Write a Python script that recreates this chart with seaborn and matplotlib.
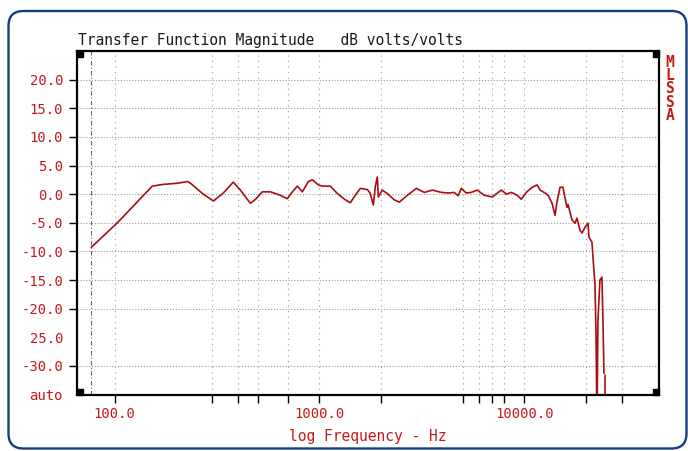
import numpy as np
import matplotlib
matplotlib.use('Agg')
import matplotlib.pyplot as plt
import matplotlib.patches as mpatches
import seaborn as sns

freq_hz = [77, 104, 142, 153, 173, 203, 227, 235, 269, 304, 340, 380, 412, 436, 461, 488,
           527, 577, 645, 698, 738, 781, 826, 884, 924, 990, 1034, 1131, 1224, 1339, 1416,
           1498, 1585, 1715, 1773, 1834, 1875, 1918, 1940, 2028, 2146, 2322, 2457, 2690,
           2976, 3254, 3560, 3940, 4260, 4550, 4760, 4930, 5210, 5510, 5900, 6380, 6990,
           7400, 7740, 8190, 8650, 9250, 9680, 10230, 10940, 11570, 11960, 12500, 13080,
           13680, 14140, 14460, 14960, 15470, 15640, 16170, 16360, 17110, 17700, 18100,
           18720, 19150, 19800, 20480, 20710, 21420, 21660, 22160, 22410, 22660, 22910,
           23430, 23960, 24230, 24500]
mag_db = [-9.3, -4.9, 0.2, 1.4, 1.7, 1.9, 2.2, 1.9, 0.1, -1.2, 0.2, 2.1, 0.7, -0.5, -1.6, -0.9,
          0.4, 0.4, -0.2, -0.8, 0.4, 1.4, 0.4, 2.2, 2.5, 1.6, 1.4, 1.4, 0.1, -1.0, -1.5,
          -0.2, 1.0, 0.8, 0.1, -1.9, 1.3, 3.0, -0.5, 0.7, 0.1, -1.0, -1.4, -0.2,
          1.0, 0.3, 0.7, 0.3, 0.2, 0.3, -0.3, 1.0, 0.2, 0.3, 0.7, -0.2, -0.5,
          0.2, 0.7, 0.0, 0.3, -0.2, -0.9, 0.3, 1.2, 1.6, 0.7, 0.3, -0.2,
          -1.6, -3.7, -1.4, 1.2, 1.2, 0.2, -2.3, -1.8, -4.5, -5.1, -4.2,
          -6.3, -6.8, -5.8, -5.1, -7.5, -8.4, -11.0, -15.9, -24.3, -40.0, -22.0,
          -15.0, -14.5, -22.0, -31.3]
tail_hz = [24770, 24770]
tail_db = [-31.6, -40.0]

# axis setup
grid_hz = [100, 300, 400, 500, 700, 1000, 2000, 5000, 6000, 7000, 8000, 10000, 20000, 30000]
x_labels = {100: '100.0', 1000: '1000.0', 10000: '10000.0'}
y_ticks = [20, 15, 10, 5, 0, -5, -10, -15, -20, -25, -30, -35]
y_labels = ['20.0', '15.0', '10.0', '5.0', '0.0', '-5.0', '-10.0', '-15.0', '-20.0',
            '25.0', '-30.0', 'auto']

red = '#c41a1a'
line_red = '#a80e12'

sns.set_style('white')
plt.rcParams['font.family'] = ['DejaVu Sans Mono']

fig = plt.figure(figsize=(6.88, 4.51), dpi=100)
ax = fig.add_axes([77 / 688, (451 - 394.5) / 451, 582 / 688, 343.5 / 451])

sns.lineplot(x=freq_hz, y=mag_db, ax=ax, estimator=None, sort=False,
             color=line_red, linewidth=1.2)
sns.lineplot(x=tail_hz, y=tail_db, ax=ax, estimator=None, sort=False,
             color=line_red, linewidth=1.2)

ax.set_xscale('log')
ax.set_xlim(65.6, 45500)
ax.set_ylim(-35, 25)

ax.set_xticks(grid_hz)
ax.set_xticklabels([x_labels.get(f, '') for f in grid_hz])
ax.xaxis.set_minor_locator(matplotlib.ticker.NullLocator())
ax.set_yticks(y_ticks)
ax.set_yticklabels(y_labels)

ax.tick_params(axis='both', direction='out', length=6, width=1, color='black',
               labelcolor=red, labelsize=10, pad=4)
ax.tick_params(axis='x', pad=3)
ax.tick_params(axis='y', left=True)
ax.tick_params(axis='x', bottom=True)

ax.grid(axis='y', color='#999999', linestyle=(0, (1, 1.6)), linewidth=0.8)
ax.grid(axis='x', color='#999999', linestyle=(0, (1, 4)), linewidth=0.8)
# no grid or tick at -25 and the "auto" floor
for i, t in enumerate(ax.yaxis.get_major_ticks()):
    if y_ticks[i] in (-25, -35):
        t.tick1line.set_visible(False)
        t.gridline.set_visible(False)

# start-of-measurement marker line
ax.axvline(freq_hz[0], color='#666666', linewidth=0.8, linestyle=(0, (4, 2, 1, 2)), zorder=1)

for s in ax.spines.values():
    s.set_color('black')
    s.set_linewidth(1.6)
    s.set_visible(True)

# little black corner blocks of the analyzer screen
w, h = 6 / 582, 6 / 343.5
for (cx, cy) in [(0, 1 - h), (1 - w, 1 - h), (0, 0), (1 - w, 0)]:
    ax.add_patch(mpatches.Rectangle((cx, cy), w, h, transform=ax.transAxes,
                                    color='black', clip_on=False, zorder=5))

ax.set_xlabel('log Frequency - Hz', color=red, fontsize=10.5, labelpad=6)
ax.set_ylabel('')

fig.text(78 / 688, 1 - 40 / 451, 'Transfer Function Magnitude   dB volts/volts',
         ha='left', va='center', fontsize=10.5, color='#1a1a1a')
fig.text(670 / 688, 1 - 89 / 451, '\n'.join('MLSSA'), ha='center', va='center',
         fontsize=10.5, fontweight='bold', color=red, linespacing=0.85)

# rounded navy frame around the screenshot
frame = mpatches.FancyBboxPatch((0.085, 0.025), 6.78, 4.375,
                                boxstyle='round,pad=0,rounding_size=0.15',
                                transform=fig.dpi_scale_trans, fill=False,
                                edgecolor='#123f7c', linewidth=1.7)
fig.add_artist(frame)

plt.savefig('out.png', dpi=100)
plt.close()
